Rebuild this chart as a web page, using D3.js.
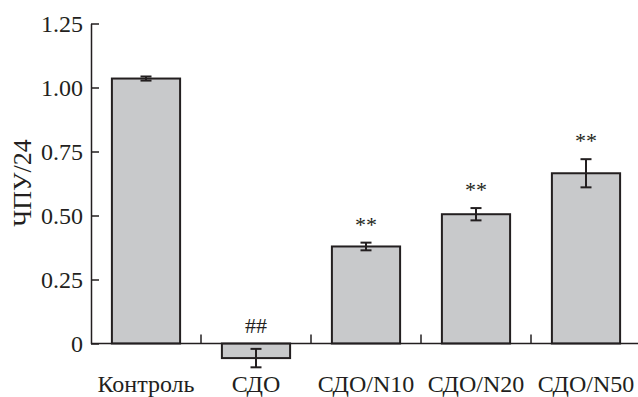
<!DOCTYPE html>
<html>
<head>
<meta charset="utf-8">
<script src="https://cdn.jsdelivr.net/npm/d3@7"></script>
<style>
  html, body { margin: 0; padding: 0; background: #fff; }
  svg { display: block; }
  text { font-family: "Liberation Serif", "Times New Roman", serif; fill: #231f20; }
</style>
</head>
<body>
<svg id="chart" width="638" height="397"></svg>
<script>
const categories = ["Контроль", "СДО", "СДО/N10", "СДО/N20", "СДО/N50"];
const values = [1.035, -0.057, 0.379, 0.505, 0.665];
const errors = [0.008, 0.036, 0.015, 0.024, 0.055];
const annotations = ["", "##", "**", "**", "**"];
const yTicks = [0, 0.25, 0.5, 0.75, 1.0, 1.25];
const yTitle = "ЧПУ/24";

const ink = "#231f20";
const svg = d3.select("#chart");
const plotLeft = 91, plotRight = 641, plotTop = 23.5, zeroY = 343.5;

const x = d3.scaleBand().domain(categories).range([plotLeft, plotRight])
  .paddingInner(0.38).paddingOuter(0.19);
const y = d3.scaleLinear().domain([0, 1.25]).range([zeroY, plotTop]);

// bars
svg.append("g").selectAll("rect").data(categories).join("rect")
  .attr("x", d => x(d))
  .attr("width", x.bandwidth())
  .attr("y", (d, i) => y(Math.max(0, values[i])))
  .attr("height", (d, i) => Math.abs(y(values[i]) - y(0)))
  .attr("fill", "#c8c9cb")
  .attr("stroke", ink)
  .attr("stroke-width", 2);

// error bars
const eg = svg.append("g").attr("stroke", ink).attr("stroke-width", 2).attr("fill", "none");
const capW = 11;
categories.forEach((c, i) => {
  const cx = x(c) + x.bandwidth() / 2;
  const y1 = y(values[i] + errors[i]), y2 = y(values[i] - errors[i]);
  eg.append("line").attr("x1", cx).attr("x2", cx).attr("y1", y1).attr("y2", y2);
  eg.append("line").attr("x1", cx - capW / 2).attr("x2", cx + capW / 2).attr("y1", y1).attr("y2", y1);
  eg.append("line").attr("x1", cx - capW / 2).attr("x2", cx + capW / 2).attr("y1", y2).attr("y2", y2);
});

// annotations
svg.append("g").selectAll("text").data(categories).join("text")
  .attr("x", d => x(d) + x.bandwidth() / 2)
  .attr("y", (d, i) => Math.min(y(values[i] + errors[i]), y(0)) - 11)
  .attr("text-anchor", "middle")
  .attr("font-size", 22)
  .text((d, i) => annotations[i]);

// y axis
const yAxis = d3.axisLeft(y).tickValues(yTicks)
  .tickFormat(d => d === 0 ? "0" : d3.format(".2f")(d))
  .tickSizeInner(-8).tickSizeOuter(0).tickPadding(8);
const ya = svg.append("g").attr("transform", `translate(${plotLeft},0)`).call(yAxis);
ya.selectAll("text").attr("font-size", 24).style("fill", ink)
  .style("font-family", "'Liberation Serif', serif");
ya.selectAll("line, path").attr("stroke", ink).attr("stroke-width", 1.5);

// x axis (labels)
const xAxis = d3.axisBottom(x).tickSize(0).tickPadding(31);
const xa = svg.append("g").attr("transform", `translate(0,${zeroY})`).call(xAxis);
xa.select(".domain").remove();
xa.selectAll("text").attr("font-size", 24).style("fill", ink)
  .style("font-family", "'Liberation Serif', serif");

// x axis line and category-boundary ticks
svg.append("line").attr("x1", plotLeft).attr("x2", plotRight).attr("y1", zeroY).attr("y2", zeroY)
  .attr("stroke", ink).attr("stroke-width", 1.5);
const gap = x.step() * x.paddingInner() / 2;
svg.append("g").selectAll("line").data(categories.slice(0, -1)).join("line")
  .attr("x1", d => x(d) + x.bandwidth() + gap)
  .attr("x2", d => x(d) + x.bandwidth() + gap)
  .attr("y1", zeroY).attr("y2", zeroY - 9)
  .attr("stroke", ink).attr("stroke-width", 1.5);

// y title
svg.append("text")
  .attr("transform", `translate(31,183) rotate(-90)`)
  .attr("text-anchor", "middle")
  .attr("font-size", 26)
  .text(yTitle);
</script>
</body>
</html>
